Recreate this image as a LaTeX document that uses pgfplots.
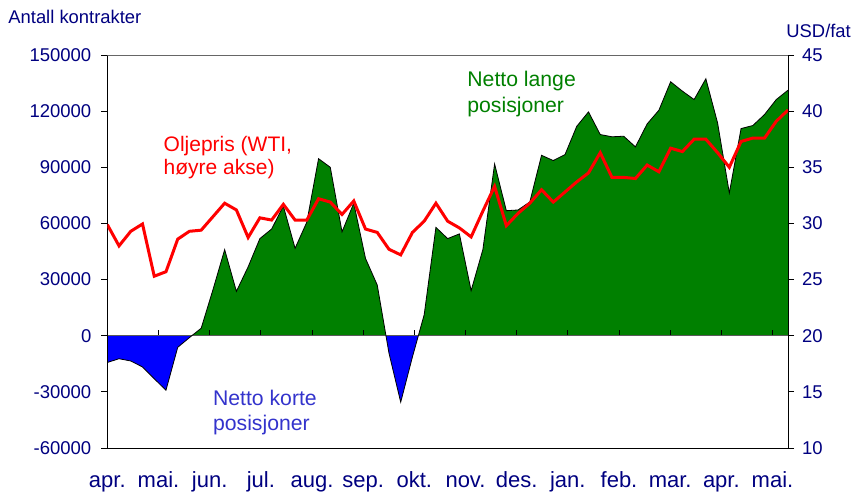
\documentclass[border=0pt]{standalone}
\usepackage{pgfplots}
\pgfplotsset{compat=1.18}
\usepackage{pgfplotstable}
\usepackage{fontspec}
\setmainfont{Liberation Sans}
\definecolor{navy}{RGB}{0,0,128}
\definecolor{xlgreen}{RGB}{0,128,0}
\definecolor{xlblue}{RGB}{0,0,255}
\definecolor{txtblue}{RGB}{51,51,204}
\definecolor{xlred}{RGB}{255,0,0}

\pgfplotstableread{
x y
0 -14300
1 -12300
2 -13500
3 -16700
4 -23000
5 -29100
6 -6200
7 -1000
8 4000
9 24500
10 46000
11 23700
12 36800
13 51900
14 57000
15 69300
16 46700
17 60700
18 94600
19 90000
20 55500
21 70800
22 41300
23 27100
24 -9300
25 -35500
26 -11300
27 11200
28 57900
29 51900
30 54400
31 24100
32 46000
33 91800
34 66800
35 67200
36 71500
37 96400
38 93600
39 96800
40 111900
41 119600
42 107500
43 106300
44 106600
45 100900
46 113200
47 120500
48 135700
49 130700
50 126200
51 137300
52 113700
53 76300
54 110700
55 112300
56 118200
57 126200
58 131200
}\nettable

\pgfplotstableread{
x y
0 29.9
1 28.0
2 29.3
3 29.95
4 25.3
5 25.7
6 28.6
7 29.3
8 29.4
9 30.6
10 31.8
11 31.2
12 28.75
13 30.5
14 30.3
15 31.7
16 30.3
17 30.3
18 32.2
19 31.9
20 30.8
21 32.0
22 29.5
23 29.2
24 27.7
25 27.2
26 29.2
27 30.2
28 31.8
29 30.2
30 29.6
31 28.8
32 31.1
33 33.3
34 29.8
35 30.9
36 31.8
37 33.0
38 31.9
39 32.8
40 33.7
41 34.5
42 36.3
43 34.1
44 34.1
45 34.0
46 35.2
47 34.6
48 36.7
49 36.4
50 37.5
51 37.5
52 36.3
53 35.0
54 37.3
55 37.6
56 37.6
57 39.1
58 40.1
}\oiltable

\def\monthticks{0,4.36,8.72,13.08,17.44,21.8,26.16,30.52,34.88,39.24,43.6,47.96,52.32,56.68}

\begin{document}
\begin{tikzpicture}
\useasboundingbox (-53.65pt,-22pt) rectangle (373.35pt,224pt);
% positive part (clipped to y >= 0)
\begin{axis}[
  at={(0pt,56.142857pt)}, anchor=south west,
  width=340.35pt, height=140.357143pt, scale only axis,
  xmin=0, xmax=58, ymin=0, ymax=150000,
  hide axis,
]
\addplot[fill=xlgreen, draw=none] table {\nettable} \closedcycle;
\end{axis}
% negative part (clipped to y <= 0)
\begin{axis}[
  at={(0pt,0pt)}, anchor=south west,
  width=340.35pt, height=56.142857pt, scale only axis,
  xmin=0, xmax=58, ymin=-60000, ymax=0,
  hide axis,
]
\addplot[fill=xlblue, draw=none] table {\nettable} \closedcycle;
\end{axis}
% main left axis with outline
\begin{axis}[
  at={(0pt,0pt)}, anchor=south west,
  width=340.35pt, height=196.5pt, scale only axis,
  xmin=0, xmax=58, ymin=-60000, ymax=150000,
  scaled y ticks=false,
  axis x line*=middle, axis y line*=left,
  x axis line style={black!65, -},
  y axis line style={black, -},
  xtick/.expand once=\monthticks,
  xticklabels={},
  xtick align=inside,
  ytick align=outside,
  major tick length=3pt,
  tick style={black, line width=0.4pt},
  ytick={-60000,-30000,0,30000,60000,90000,120000,150000},
  yticklabels={-60000,-30000,0,30000,60000,90000,120000,150000},
  yticklabel style={font=\fontsize{9.25}{11}\selectfont, text=navy, anchor=east, inner sep=0pt, xshift=-4.8pt},
]
\addplot[black, line width=0.4pt] table {\nettable};
\end{axis}
% right axis with oil price
\begin{axis}[
  at={(0pt,0pt)}, anchor=south west,
  width=340.35pt, height=196.5pt, scale only axis,
  xmin=0, xmax=58, ymin=10, ymax=45,
  axis x line*=bottom, axis y line*=right,
  axis line style={black, -},
  xtick/.expand once=\monthticks,
  xticklabels={apr.,mai.,jun.,jul.,aug.,sep.,okt.,nov.,des.,jan.,feb.,mar.,apr.,mai.},
  xtick align=inside,
  major x tick style={draw=none},
  xticklabel style={font=\fontsize{11}{13}\selectfont, text=navy, anchor=base, yshift=-19.5pt},
  ytick={10,15,20,25,30,35,40,45},
  yticklabels={10,15,20,25,30,35,40,45},
  ytick align=outside,
  major tick length=3pt,
  tick style={black, line width=0.4pt},
  yticklabel style={font=\fontsize{9.25}{11}\selectfont, text=navy, anchor=west, inner sep=0pt, xshift=3.85pt},
]
\addplot[xlred, line width=1.5pt] table {\oiltable};
\draw[black!60, line width=0.5pt] (rel axis cs:0,1) -- (rel axis cs:1,1);
\end{axis}
\node[anchor=base west, inner sep=0pt, text=navy, font=\fontsize{9.2}{11}\selectfont] at (-49.65pt,212pt) {Antall kontrakter};
\node[anchor=base west, inner sep=0pt, text=navy, font=\fontsize{9.2}{11}\selectfont] at (339.35pt,205.35pt) {USD/fat};
\node[anchor=base west, inner sep=0pt, text=xlred, font=\fontsize{10.5}{12}\selectfont] at (28pt,148pt) {Oljepris (WTI,};
\node[anchor=base west, inner sep=0pt, text=xlred, font=\fontsize{10.5}{12}\selectfont] at (28pt,136.5pt) {høyre akse)};
\node[anchor=base west, inner sep=0pt, text=xlgreen, font=\fontsize{10.6}{12}\selectfont] at (179.85pt,180.65pt) {Netto lange};
\node[anchor=base west, inner sep=0pt, text=xlgreen, font=\fontsize{10.6}{12}\selectfont] at (179.85pt,167.8pt) {posisjoner};
\node[anchor=base west, inner sep=0pt, text=txtblue, font=\fontsize{10.6}{12}\selectfont] at (52.7pt,21.5pt) {Netto korte};
\node[anchor=base west, inner sep=0pt, text=txtblue, font=\fontsize{10.6}{12}\selectfont] at (52.7pt,9pt) {posisjoner};
\end{tikzpicture}
\end{document}
